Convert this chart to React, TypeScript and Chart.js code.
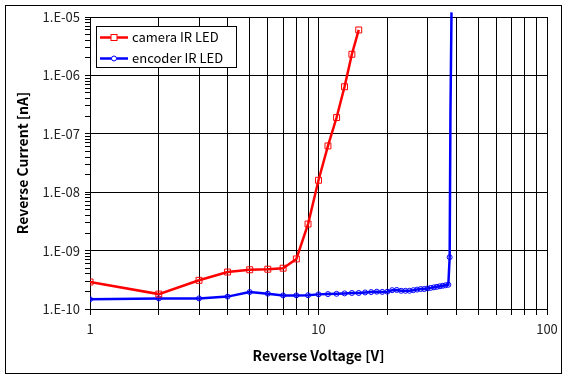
import React, { useEffect, useRef } from 'react';
import { Chart, registerables } from 'chart.js';
Chart.register(...registerables);

const cameraVoltage = [1, 2, 3, 4, 5, 6, 7, 8, 9, 10, 11, 12, 13, 14, 15];
const cameraCurrent = [2.9e-10, 1.8e-10, 3.1e-10, 4.3e-10, 4.7e-10, 4.8e-10, 5.0e-10, 7.2e-10, 2.85e-9, 1.6e-8, 6.2e-8, 1.9e-7, 6.4e-7, 2.3e-6, 6.0e-6];

const encoderVoltage = [1, 2, 3, 4, 5, 6, 7, 8, 9, 10, 11, 12, 13, 14, 15, 16, 17, 18, 19, 20, 21, 22, 23, 24, 25, 26, 27, 28, 29, 30, 31, 32, 33, 34, 35, 36, 37, 37.5, 37.8, 38.2];
const encoderCurrent = [1.47e-10, 1.52e-10, 1.52e-10, 1.63e-10, 1.95e-10, 1.83e-10, 1.71e-10, 1.71e-10, 1.72e-10, 1.78e-10, 1.8e-10, 1.82e-10, 1.85e-10, 1.88e-10, 1.88e-10, 1.92e-10, 1.95e-10, 1.98e-10, 1.96e-10, 1.98e-10, 2.1e-10, 2.12e-10, 2.05e-10, 2.05e-10, 2.05e-10, 2.1e-10, 2.15e-10, 2.2e-10, 2.2e-10, 2.25e-10, 2.3e-10, 2.35e-10, 2.4e-10, 2.45e-10, 2.5e-10, 2.55e-10, 2.6e-10, 7.7e-10, 2.3e-7, 1.2e-5];

const xTickValues = [1, 2, 3, 4, 5, 6, 7, 8, 9, 10, 20, 30, 40, 50, 60, 70, 80, 90, 100];
const xTickLabels = ['1', '10', '100'];
const yExponents = [-10, -9, -8, -7, -6, -5];
const yMinorMultipliers = [2, 3, 4, 5, 6, 7, 8, 9];
const seriesNames = ['camera IR LED', 'encoder IR LED'];
const seriesColors = ['#ff0000', '#0000ff'];

const FONT = "'Noto Sans CJK KR', 'DejaVu Sans', sans-serif";

const isDecade = (v: number) => {
  const l = Math.log10(v);
  return Math.abs(l - Math.round(l)) < 1e-6;
};

const legendPlugin = {
  id: 'boxLegend',
  afterDraw(chart: any) {
    const ctx = chart.ctx;
    const x0 = 96.5, y0 = 26.5, w = 140, h = 41;
    ctx.save();
    ctx.fillStyle = '#fff';
    ctx.fillRect(x0, y0, w, h);
    ctx.strokeStyle = '#000';
    ctx.lineWidth = 1;
    ctx.strokeRect(x0, y0, w, h);
    const rows = [37.5, 58.5];
    rows.forEach((ry, i) => {
      const col = seriesColors[i];
      ctx.strokeStyle = col;
      ctx.lineWidth = 2.5;
      ctx.beginPath();
      ctx.moveTo(100, ry);
      ctx.lineTo(128, ry);
      ctx.stroke();
      ctx.lineWidth = 1;
      ctx.fillStyle = '#fff';
      if (i === 0) {
        ctx.fillRect(111, ry - 3, 6, 6);
        ctx.strokeRect(111, ry - 3, 6, 6);
      } else {
        ctx.beginPath();
        ctx.arc(114, ry, 2.5, 0, Math.PI * 2);
        ctx.fill();
        ctx.stroke();
      }
      ctx.fillStyle = '#000';
      ctx.font = `13px ${FONT}`;
      ctx.textBaseline = 'middle';
      ctx.textAlign = 'left';
      ctx.fillText(seriesNames[i], 132, ry);
    });
    ctx.restore();
  },
};

export default function App() {
  const ref = useRef<HTMLCanvasElement>(null);
  useEffect(() => {
    if (!ref.current) return;
    const yTicks: number[] = [];
    yExponents.forEach((e, i) => {
      yTicks.push(Math.pow(10, e));
      if (i < yExponents.length - 1) yMinorMultipliers.forEach((m) => yTicks.push(m * Math.pow(10, e)));
    });
    const chart = new Chart(ref.current, {
      type: 'line',
      data: {
        datasets: [
          {
            label: seriesNames[0],
            data: cameraVoltage.map((v, i) => ({ x: v, y: cameraCurrent[i] })),
            borderColor: seriesColors[0],
            backgroundColor: '#fff',
            borderWidth: 2.5,
            pointStyle: 'rect',
            pointRadius: 4.2,
            pointBorderWidth: 1,
            pointBackgroundColor: 'rgba(255,255,255,0)',
            tension: 0,
          },
          {
            label: seriesNames[1],
            data: encoderVoltage.map((v, i) => ({ x: v, y: encoderCurrent[i] })),
            borderColor: seriesColors[1],
            backgroundColor: '#fff',
            borderWidth: 2.5,
            pointStyle: 'circle',
            pointRadius: (c: any) => (c.dataIndex === encoderVoltage.length - 1 || c.dataIndex === encoderVoltage.length - 2 ? 0 : 2.5),
            pointBorderWidth: 1,
            pointBackgroundColor: 'rgba(255,255,255,0)',
            tension: 0,
            clip: { left: 0, top: 5, right: 0, bottom: 0 } as any,
          },
        ],
      },
      options: {
        responsive: false,
        animation: false,
        layout: { padding: { left: 10, right: 21, top: 17, bottom: 12 } },
        plugins: { legend: { display: false }, tooltip: { enabled: false } },
        scales: {
          x: {
            type: 'logarithmic',
            min: 1,
            max: 100,
            afterBuildTicks: (s: any) => {
              s.ticks = xTickValues.map((v) => ({ value: v }));
            },
            afterFit: (s: any) => {
              s.height = 59;
            },
            ticks: {
              autoSkip: false,
              maxRotation: 0,
              color: '#222',
              font: { family: FONT, size: 13 },
              padding: 6,
              callback: (v: any) => {
                const s = String(v);
                return xTickLabels.includes(s) ? s : '';
              },
            },
            grid: { color: '#000', lineWidth: 1, tickLength: 6, tickColor: '#000' },
            border: { color: '#000', width: 1 },
            title: {
              display: true,
              text: 'Reverse Voltage [V]',
              color: '#000',
              font: { family: FONT, size: 14, weight: 'bold' },
              padding: { top: 4, bottom: 4 },
            },
          },
          y: {
            type: 'logarithmic',
            min: 1e-10,
            max: 1e-5,
            afterBuildTicks: (s: any) => {
              s.ticks = yTicks.map((v) => ({ value: v }));
            },
            afterFit: (s: any) => {
              s.width = 80;
            },
            ticks: {
              autoSkip: false,
              color: '#222',
              font: { family: FONT, size: 13 },
              padding: 5,
              callback: (v: any) => {
                const n = Number(v);
                if (!isDecade(n)) return '';
                const e = Math.round(Math.log10(n));
                return `1.E${e < 0 ? '-' : '+'}${String(Math.abs(e)).padStart(2, '0')}`;
              },
            },
            grid: {
              color: (c: any) => (c.tick && isDecade(c.tick.value) ? '#000' : 'rgba(0,0,0,0)'),
              tickColor: '#000',
              lineWidth: 1,
              tickLength: 5,
            },
            border: { color: '#000', width: 1 },
            title: {
              display: true,
              text: 'Reverse Current [nA]',
              color: '#000',
              font: { family: FONT, size: 14, weight: 'bold' },
              padding: { top: 4, bottom: 4 },
            },
          },
        },
      } as any,
      plugins: [legendPlugin],
    });
    return () => chart.destroy();
  }, []);
  return (
    <div style={{ position: 'absolute', left: 0, top: 0, width: 568, height: 380, background: '#fff' }}>
      <canvas ref={ref} width={568} height={380} style={{ position: 'absolute', left: 0, top: 0 }} />
      <div
        style={{
          position: 'absolute',
          left: 5,
          top: 5,
          width: 557,
          height: 369,
          border: '1px solid #000',
          boxSizing: 'border-box',
          pointerEvents: 'none',
        }}
      />
    </div>
  );
}
